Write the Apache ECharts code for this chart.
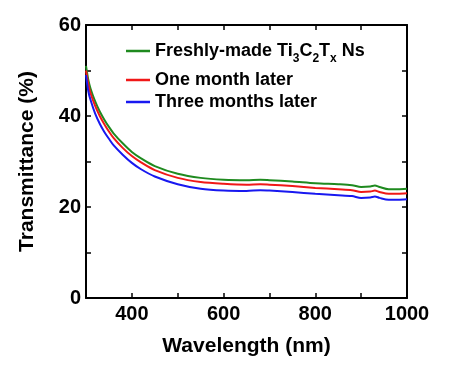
<!DOCTYPE html>
<html><head><meta charset="utf-8">
<script src="https://cdn.jsdelivr.net/npm/echarts@6/dist/echarts.min.js"></script>
<style>html,body{margin:0;padding:0;background:#fff}#c{width:453px;height:366px}</style>
</head><body><div id="c"></div>
<script>
const wavelengths = [300,305,310,320,330,340,350,360,380,400,420,450,500,550,600,650,680,700,750,800,850,880,900,920,930,940,960,980,1000];
const freshly = [51,48,46,43.2,41,39.2,37.6,36.2,34,32.1,30.7,29.0,27.3,26.4,26.0,25.9,26.0,25.9,25.6,25.2,25.0,24.8,24.4,24.5,24.7,24.4,23.9,23.9,24.0];
const oneMonth = [50,47,45,42.2,40,38.2,36.6,35.2,33,31.2,29.8,28.1,26.4,25.5,25.1,24.9,25.0,24.9,24.6,24.2,23.9,23.7,23.3,23.4,23.6,23.3,22.9,22.9,23.0];
const threeMonths = [49,45.5,43.5,40.5,38.3,36.5,35,33.6,31.5,29.7,28.3,26.7,25.0,24.0,23.6,23.5,23.7,23.6,23.3,22.9,22.6,22.4,22.0,22.1,22.3,22.0,21.6,21.6,21.7];
const seriesNames = ['Freshly-made Ti3C2Tx Ns','One month later','Three months later'];
const colors = ['#1f8a1f','#f01818','#1818f0'];

const font = 'Liberation Sans, Arial, Helvetica, sans-serif';
const chart = echarts.init(document.getElementById('c'));
const pair = arr => wavelengths.map((w,i)=>[w,arr[i]]);
const axisCommon = {
  axisLine:{show:true,onZero:false,lineStyle:{color:'#000',width:2}},
  axisTick:{show:true,inside:true,length:5,lineStyle:{color:'#000',width:1.5}},
  splitLine:{show:false}
};
const legendBase = {
  icon:'rect', itemWidth:24, itemHeight:2.5, itemGap:4,
  textStyle:{fontFamily:font,fontWeight:'bold',fontSize:18,color:'#000',
    rich:{
      b:{fontFamily:font,fontWeight:'bold',fontSize:18,color:'#000'},
      s:{fontFamily:font,fontWeight:'bold',fontSize:12,color:'#000',padding:[16,0,0,0]}
    }}
};
chart.setOption({
  animation:false,
  grid:{left:86,right:46,top:25,bottom:68},
  legend:[
    Object.assign({},legendBase,{data:[seriesNames[0]],left:121,top:37,
      formatter:()=>'{b|Freshly-made Ti}{s|3}{b|C}{s|2}{b|T}{s|x}{b| Ns}'}),
    Object.assign({},legendBase,{data:[seriesNames[1]],left:121,top:66}),
    Object.assign({},legendBase,{data:[seriesNames[2]],left:121,top:88})
  ],
  xAxis:[
    Object.assign({type:'value',min:300,max:1000,interval:100,position:'bottom',
      name:'Wavelength (nm)',nameLocation:'middle',nameGap:38,
      nameTextStyle:{fontFamily:font,fontWeight:'bold',fontSize:21,color:'#000'},
      axisLabel:{fontFamily:font,fontWeight:'bold',fontSize:20,color:'#000',margin:6,
        formatter:v=>(v%200===0?String(v):'')}},axisCommon),
    Object.assign({type:'value',min:300,max:1000,interval:100,position:'top',
      axisLabel:{show:false}},axisCommon)
  ],
  yAxis:[
    Object.assign({type:'value',min:0,max:60,interval:10,position:'left',
      name:'Transmittance (%)',nameLocation:'middle',nameGap:48,
      nameTextStyle:{fontFamily:font,fontWeight:'bold',fontSize:21,color:'#000'},
      axisLabel:{fontFamily:font,fontWeight:'bold',fontSize:20,color:'#000',margin:5,
        formatter:v=>(v%20===0?String(v):'')}},axisCommon),
    Object.assign({type:'value',min:0,max:60,interval:10,position:'right',
      axisLabel:{show:false}},axisCommon)
  ],
  series:[freshly,oneMonth,threeMonths].map((arr,i)=>({
    name:seriesNames[i],type:'line',data:pair(arr),showSymbol:false,symbol:'none',
    smooth:0.3,lineStyle:{color:colors[i],width:2},itemStyle:{color:colors[i]},
    xAxisIndex:0,yAxisIndex:0
  }))
});
</script></body></html>
